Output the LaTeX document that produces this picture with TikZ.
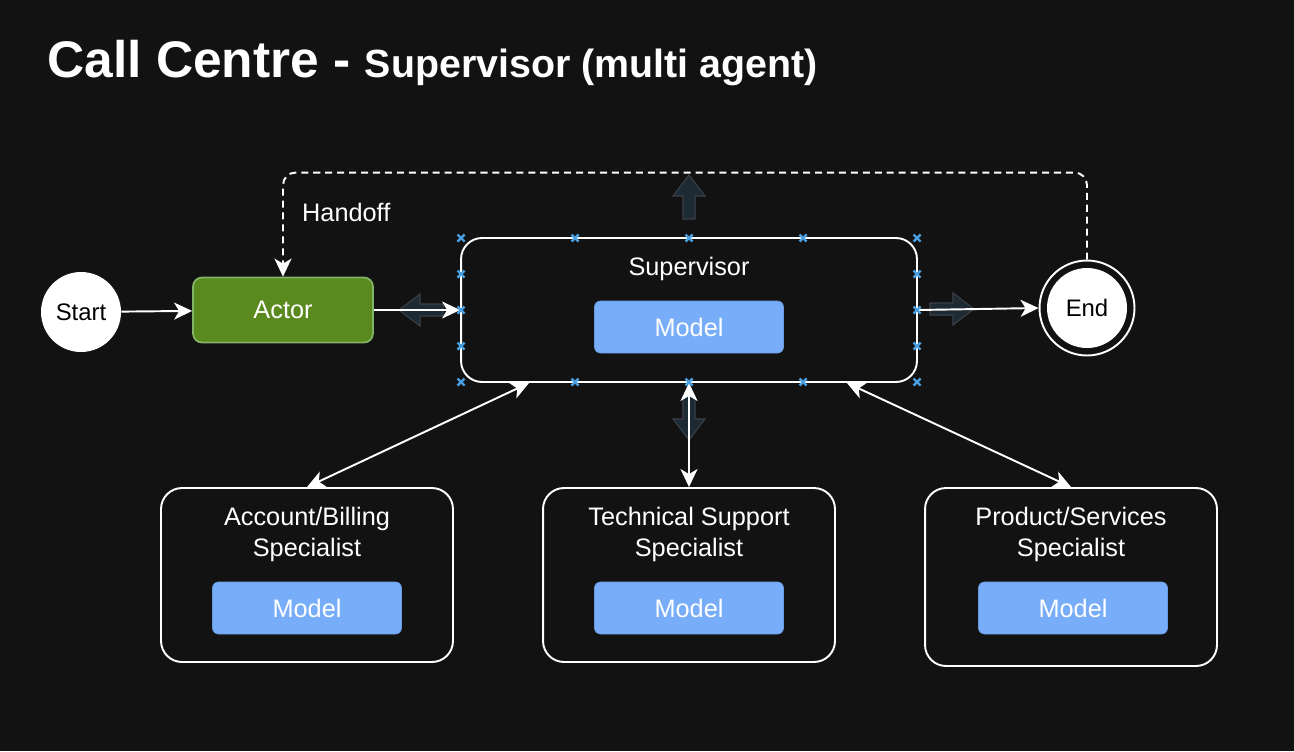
\documentclass[tikz,border=0pt]{standalone}
\usepackage{fontspec}
\setmainfont{Liberation Sans}
\usetikzlibrary{arrows.meta}

\definecolor{bg}{HTML}{121212}
\definecolor{actorfill}{HTML}{5A8A1E}
\definecolor{actorline}{HTML}{82B366}
\definecolor{modelfill}{HTML}{78ADF9}
\definecolor{modelline}{HTML}{6A9AE0}
\definecolor{ghost}{HTML}{1D2A34}
\definecolor{ghostline}{HTML}{3A4147}
\definecolor{handle}{HTML}{4A9FE0}

\begin{document}
\begin{tikzpicture}[x=0.02cm, y=-0.02cm,
    >={Stealth[length=0.36cm, width=0.34cm, inset=0.1cm]},
    txt/.style={text=white, align=center, font=\fontsize{14.4}{17.6}\selectfont},
    box/.style={draw=white, line width=1.1pt, rounded corners=0.42cm},
    model/.style={draw=modelline, fill=modelfill, rounded corners=0.12cm,
      minimum width=3.78cm, minimum height=1.04cm, txt},
    conn/.style={draw=white, line width=1.1pt}]
      \fill[bg] (0,0) rectangle (1294,751);
      \useasboundingbox (0,0) rectangle (1294,751);

      \node[anchor=base west, inner sep=0pt, text=white] (title) at (47,77)
        {\bfseries\fontsize{29.3}{31}\selectfont Call Centre - \fontsize{22.4}{24}\selectfont Supervisor (multi agent)};

      % start, actor, end
      \node[circle, fill=white, minimum size=1.6cm, inner sep=0pt,
        font=\fontsize{13.6}{16}\selectfont] (start) at (81,312) {Start};
      \node[fill=actorfill, draw=actorline, line width=1pt, rounded corners=0.18cm,
        minimum width=3.6cm, minimum height=1.3cm, txt] (actor) at (283,310) {Actor};
      \node[circle, draw=white, line width=1.1pt, minimum size=1.9cm] (end) at (1087,308) {};
      \node[circle, fill=white, minimum size=1.6cm, inner sep=0pt,
        font=\fontsize{13.6}{16}\selectfont] (endtxt) at (end) {End};

      % supervisor
      \node[box, minimum width=9.12cm, minimum height=2.88cm] (sup) at (689,310) {};
      \node[txt] (suptxt) at (689,269) {Supervisor};
      \node[model] (supm) at (689,327) {Model};

      % specialists
      \node[box, minimum width=5.84cm, minimum height=3.48cm] (acc) at (307,575) {};
      \node[txt] (acctxt) at (307,534) {Account/Billing\\Specialist};
      \node[model] (accm) at (307,608) {Model};

      \node[box, minimum width=5.84cm, minimum height=3.48cm] (tech) at (689,575) {};
      \node[txt] (techtxt) at (689,534) {Technical Support\\Specialist};
      \node[model] (techm) at (689,608) {Model};

      \node[box, minimum width=5.84cm, minimum height=3.56cm] (prod) at (1071,577) {};
      \node[txt] (prodtxt) at (1071,534) {Product/Services\\Specialist};
      \node[model] (prodm) at (1073,608) {Model};

      % faint hover arrows
      \foreach \x/\y/\r in {689/175/90, 689/440/-90, 399/310/180, 974/309/0}
        \filldraw[fill=ghost, draw=ghostline, line width=0.6pt, shift={(\x,\y)}, rotate=\r]
          (0,0) -- (-21,-16) -- (-21,-6) -- (-44,-6) -- (-44,6) -- (-21,6) -- (-21,16) -- cycle;

      % connectors
      \draw[conn, ->] (start) -- (actor);
      \draw[conn, ->] (actor.east) -- (sup.west);
      \draw[conn, ->] (sup.east) -- (end.west);
      \draw[conn, <->] ([xshift=1.38cm]sup.south west) -- (acc.north);
      \draw[conn, <->] (sup.south) -- (tech.north);
      \draw[conn, <->] ([xshift=-1.42cm]sup.south east) -- (prod.north);
      \draw[conn, ->, dash pattern=on 4pt off 2.8pt, rounded corners=0.25cm]
        (end.north) -- ++(0,-87) -| (actor.north);
      \node[txt, anchor=west] (handoff) at (296,212) {Handoff};

      % handles
      \foreach \x in {461,575,689,803,917}
        \foreach \y in {238,382}
          \draw[handle, line width=1.4pt] (\x-3.5,\y-3.5) -- (\x+3.5,\y+3.5) (\x-3.5,\y+3.5) -- (\x+3.5,\y-3.5);
      \foreach \x in {461,917}
        \foreach \y in {274,310,346}
          \draw[handle, line width=1.4pt] (\x-3.5,\y-3.5) -- (\x+3.5,\y+3.5) (\x-3.5,\y+3.5) -- (\x+3.5,\y-3.5);
\end{tikzpicture}
\end{document}
